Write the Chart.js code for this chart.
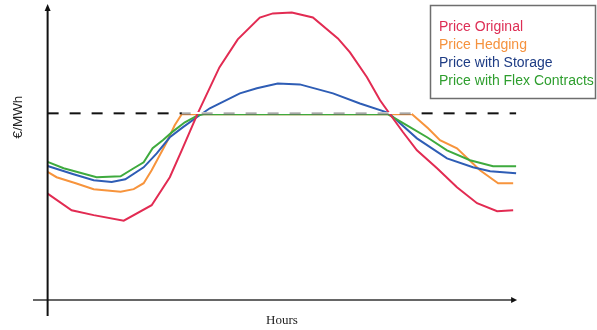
<!DOCTYPE html>
<html>
<head>
<meta charset="utf-8">
<style>
  html, body { margin: 0; padding: 0; background: #ffffff; }
  #wrap { width: 597px; height: 330px; }
</style>
<script src="https://cdn.jsdelivr.net/npm/chart.js@4/dist/chart.umd.min.js"></script>
</head>
<body>
<div id="wrap"><canvas id="c" width="597" height="330"></canvas></div>
<script>
// Hour of day for each vertex, and price in €/MWh for each series
const originalHours = [0, 1.23, 2.36, 3.9, 5.33, 6.26, 6.87, 7.69, 8.8, 9.74, 10.87, 11.54, 12.51, 13.59, 14.87, 15.49, 16.36, 17.03, 17.54, 18.2, 18.92, 19.95, 20.97, 22.0, 23.03, 23.85];
const originalPrice = [57, 48.1, 45.5, 42.5, 50.8, 65.8, 80.2, 100, 124.6, 139.6, 151.3, 153.5, 154, 151.3, 140.1, 132.6, 119.3, 107, 99.5, 90, 80.2, 70.6, 60.4, 51.9, 47.6, 48.1];

const hedgingHours = [0, 0.46, 1.44, 2.36, 3.74, 4.41, 4.92, 5.33, 6.1, 6.51, 6.87, 18.67, 19.49, 20.1, 20.97, 22.15, 23.08, 23.85];
const hedgingPrice = [68.6, 65.8, 62.6, 59.4, 58, 59.4, 62.6, 69.5, 84.5, 93.6, 99.5, 99.5, 92, 85.6, 81.3, 69.5, 62.6, 62.6];

const storageHours = [0, 1.33, 2.36, 3.28, 3.98, 4.92, 5.59, 6.26, 6.92, 7.64, 8.31, 9.85, 10.72, 11.79, 12.92, 14.62, 16.0, 17.38, 17.54, 18.92, 20.46, 21.79, 22.67, 24];
const storagePrice = [71.8, 67.4, 64.2, 63.3, 64.7, 71.1, 78.6, 87.2, 92.5, 97.9, 102.7, 110.7, 113.4, 116, 115.5, 110.7, 105.3, 100.5, 99.5, 86.6, 75.9, 71.1, 69, 67.9];

const flexHours = [0, 0.82, 2.51, 3.74, 4.41, 4.92, 5.38, 5.9, 6.36, 7.03, 7.69, 8.0, 17.44, 18.41, 19.44, 20.46, 21.64, 22.82, 24];
const flexPrice = [74, 70.6, 65.8, 66.3, 70.6, 73.8, 81.3, 85.6, 89.8, 95.2, 98.9, 99.5, 99.5, 93.6, 87.2, 80.2, 74.9, 71.7, 71.7];

// Reference price level (dashed line) and its span in hours
const referencePrice = 100;
const referenceHours = [0, 24];

const seriesNames = ['Price Original', 'Price Hedging', 'Price with Storage', 'Price with Flex Contracts'];
const lineColors = ['#E22B52', '#F7943C', '#2E5DB5', '#3EAA3E'];
const legendColors = ['#DD2E55', '#F5923E', '#1E3C84', '#2E9E2E'];
// stacking of the lines: lower numbers are drawn on top
const drawOrder = [0, 3, 2, 1];

function points(hours, values) {
  return hours.map((h, i) => ({ x: h, y: values[i] }));
}

const seriesData = [
  points(originalHours, originalPrice),
  points(hedgingHours, hedgingPrice),
  points(storageHours, storagePrice),
  points(flexHours, flexPrice)
];

// Axes with arrowheads, axis titles, reference line and boxed legend
const decorations = {
  id: 'decorations',
  afterDatasetsDraw(chart) {
    const ctx = chart.ctx;
    const xs = chart.scales.x, ys = chart.scales.y;
    const area = chart.chartArea;
    const x0 = xs.getPixelForValue(0);
    const yZero = ys.getPixelForValue(0);

    // reference price: black dashes, grey where the hedged price sits on it
    const yRef = ys.getPixelForValue(referencePrice);
    const xa = xs.getPixelForValue(referenceHours[0]);
    const xb = xs.getPixelForValue(referenceHours[1]);
    const capped = hedgingHours.filter((h, i) => hedgingPrice[i] >= referencePrice - 1);
    const xc1 = xs.getPixelForValue(capped[0]);
    const xc2 = xs.getPixelForValue(capped[capped.length - 1]);
    ctx.save();
    ctx.setLineDash([11, 11]);
    ctx.lineWidth = 2;
    ctx.strokeStyle = '#111111';
    ctx.beginPath();
    ctx.moveTo(xa, yRef);
    ctx.lineTo(xb, yRef);
    ctx.stroke();
    ctx.beginPath();
    ctx.rect(xc1, yRef - 3, xc2 - xc1, 6);
    ctx.clip();
    ctx.clearRect(xc1, yRef - 1.5, xc2 - xc1, 2);
    ctx.strokeStyle = '#a8a8a8';
    ctx.beginPath();
    ctx.moveTo(xa, yRef);
    ctx.lineTo(xb, yRef);
    ctx.stroke();
    ctx.restore();

    ctx.save();
    // horizontal axis
    ctx.strokeStyle = '#666666';
    ctx.lineWidth = 2;
    ctx.beginPath();
    ctx.moveTo(area.left + 1, yZero);
    ctx.lineTo(xs.getPixelForValue(24) - 2, yZero);
    ctx.stroke();
    ctx.fillStyle = '#111111';
    const xt = xs.getPixelForValue(24) + 1;
    ctx.beginPath();
    ctx.moveTo(xt, yZero);
    ctx.lineTo(xt - 6, yZero - 3);
    ctx.lineTo(xt - 6, yZero + 3);
    ctx.closePath();
    ctx.fill();

    // vertical axis
    ctx.strokeStyle = '#111111';
    ctx.lineWidth = 2;
    ctx.beginPath();
    ctx.moveTo(x0, area.bottom);
    ctx.lineTo(x0, area.top + 4);
    ctx.stroke();
    ctx.beginPath();
    ctx.moveTo(x0, area.top - 1);
    ctx.lineTo(x0 - 3, area.top + 6);
    ctx.lineTo(x0 + 3, area.top + 6);
    ctx.closePath();
    ctx.fill();

    // axis titles
    ctx.fillStyle = '#222222';
    ctx.font = '13.5px "Liberation Sans", Arial, sans-serif';
    ctx.textAlign = 'center';
    ctx.textBaseline = 'middle';
    ctx.save();
    ctx.translate(18, 117);
    ctx.rotate(-Math.PI / 2);
    ctx.fillText('€/MWh', 0, 0);
    ctx.restore();
    ctx.font = '13px "Liberation Serif", "Times New Roman", serif';
    ctx.fillText('Hours', 282, 321);

    // legend box
    ctx.fillStyle = '#ffffff';
    ctx.fillRect(430, 5, 166, 94);
    ctx.strokeStyle = '#6e6e6e';
    ctx.lineWidth = 1.5;
    ctx.strokeRect(430.5, 5.5, 165, 93);
    ctx.font = '14px "Liberation Sans", Arial, sans-serif';
    ctx.textAlign = 'left';
    ctx.textBaseline = 'middle';
    seriesNames.forEach((name, i) => {
      ctx.fillStyle = legendColors[i];
      ctx.fillText(name, 439, 27 + i * 18);
    });
    ctx.restore();
  }
};

new Chart(document.getElementById('c'), {
  type: 'line',
  data: {
    datasets: seriesData.map((d, i) => ({
      label: seriesNames[i],
      data: d,
      order: drawOrder[i],
      borderColor: lineColors[i],
      backgroundColor: lineColors[i],
      borderWidth: 2,
      pointRadius: 0,
      tension: 0,
      fill: false
    }))
  },
  options: {
    responsive: false,
    animation: false,
    devicePixelRatio: 1,
    layout: { padding: { left: 32, right: 77, top: 5, bottom: 14 } },
    plugins: { legend: { display: false }, tooltip: { enabled: false } },
    scales: {
      x: { type: 'linear', min: -0.8, max: 24.2, display: false },
      y: { min: -8.5, max: 158, display: false }
    }
  },
  plugins: [decorations]
});
</script>
</body>
</html>
